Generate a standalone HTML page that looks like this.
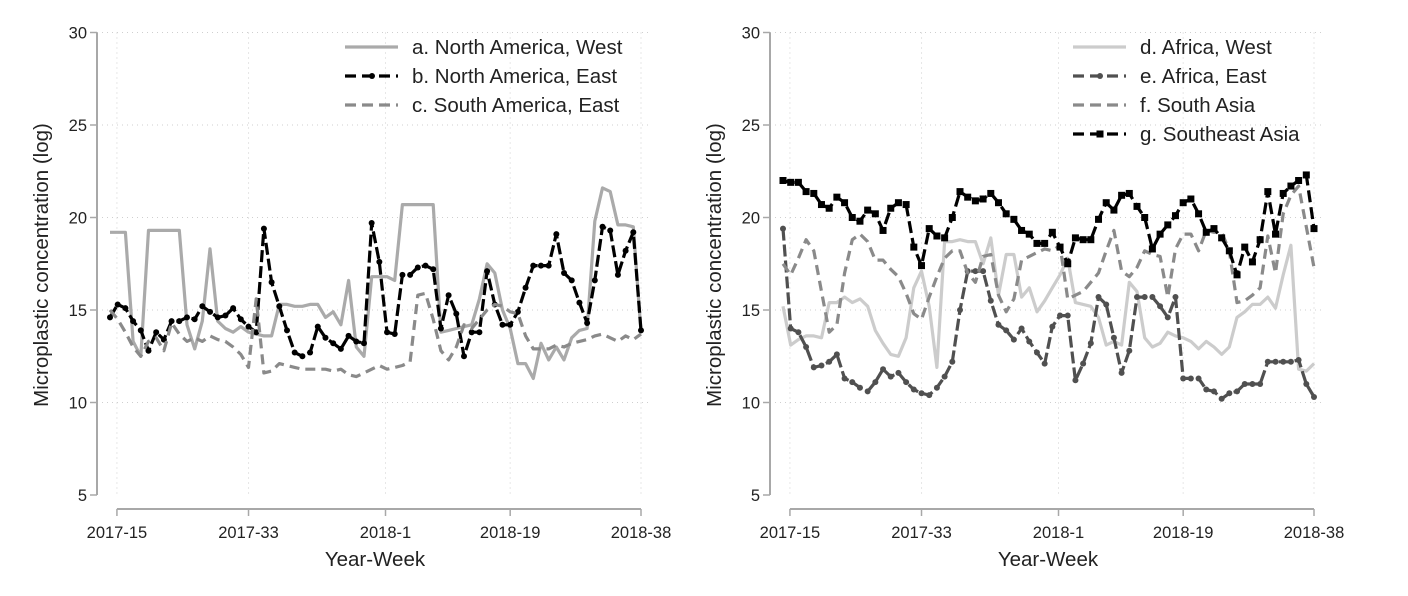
<!DOCTYPE html>
<html><head><meta charset="utf-8">
<style>
html,body{margin:0;padding:0;background:#fff;}
svg{display:block;font-family:"Liberation Sans",Arial,sans-serif;}
</style></head>
<body>
<svg id="chart" width="1408" height="596" viewBox="0 0 1408 596" xmlns="http://www.w3.org/2000/svg"></svg>
<script>
// ---- data ----
const weekCount = 70;
const tickIndex = [0.9, 18, 35.8, 52, 69];
const tickLabels = ["2017-15", "2017-33", "2018-1", "2018-19", "2018-38"];
const yTicks = [5, 10, 15, 20, 25, 30];

const seriesA = [19.2,19.2,19.2,13.3,12.5,19.3,19.3,19.3,19.3,19.3,14.2,12.9,14.4,18.3,14.4,14,13.8,14.1,13.8,13.7,13.6,13.6,15.3,15.3,15.2,15.2,15.3,15.3,14.6,14.9,14.2,16.6,13,12.5,16.8,16.8,16.8,16.6,20.7,20.7,20.7,20.7,20.7,13.8,13.9,14,14.1,14.2,15.6,17.5,17,15,14,12.1,12.1,11.3,13.2,12.3,13,12.3,13.5,13.9,14,19.8,21.6,21.4,19.6,19.6,19.5,13.8];
const seriesB = [14.6,15.3,15.1,14.4,13.9,12.8,13.8,13.4,14.4,14.4,14.6,14.5,15.2,14.9,14.6,14.7,15.1,14.5,14.1,13.8,19.4,16.5,15.2,13.9,12.7,12.5,12.7,14.1,13.5,13.2,12.9,13.6,13.3,13.2,19.7,17.6,13.8,13.7,16.9,16.9,17.3,17.4,17.2,14.0,15.8,14.8,12.5,13.8,13.8,17.1,15.3,14.2,14.2,14.9,16.2,17.4,17.4,17.4,19.1,17.0,16.6,15.4,14.3,16.6,19.5,19.3,16.9,18.2,19.2,13.9];
const seriesC = [15.0,14.5,13.8,13.0,12.5,13.3,13.5,12.8,14.3,13.7,13.3,13.5,13.3,13.6,13.4,13.3,13.0,12.6,11.9,15.6,11.6,11.7,12.1,12.0,11.9,11.8,11.8,11.8,11.8,11.7,11.8,11.5,11.4,11.6,11.8,12.0,11.8,11.9,12.0,12.2,15.8,15.9,14.5,12.8,12.3,13.0,14.2,14.0,14.5,15.0,15.3,15.2,14.9,14.8,13.6,12.9,12.9,12.9,13.1,13.0,13.2,13.3,13.4,13.6,13.7,13.5,13.3,13.6,13.4,13.7];
const seriesD = [15.2,13.1,13.4,13.6,13.6,13.5,15.4,15.4,15.7,15.4,15.6,15.2,13.9,13.2,12.6,12.5,13.5,16.2,17.1,15.2,11.9,18.7,18.7,18.8,18.7,18.7,17.5,18.9,15.8,18.0,18.0,15.7,16.2,14.9,15.5,16.2,16.9,17.8,15.4,15.3,15.2,14.6,13.1,13.3,13.1,16.5,16.0,13.5,13.0,13.2,13.8,13.6,13.5,13.3,12.9,13.3,13.0,12.6,13.0,14.6,14.9,15.3,15.3,15.7,15.1,16.9,18.5,11.8,11.7,12.1];
const seriesE = [19.4,14.0,13.8,13.0,11.9,12.0,12.2,12.6,11.3,11.1,10.8,10.6,11.1,11.8,11.4,11.6,11.1,10.7,10.5,10.4,10.8,11.4,12.2,15.0,17.1,17.1,17.1,15.5,14.2,13.9,13.4,14.0,13.3,12.7,12.1,14.1,14.7,14.7,11.2,12.1,13.2,15.7,15.3,13.5,11.6,12.8,15.7,15.7,15.7,15.2,14.6,15.7,11.3,11.3,11.3,10.7,10.6,10.2,10.5,10.6,11.0,11.0,11.0,12.2,12.2,12.2,12.2,12.3,11.0,10.3];
const seriesF = [17.5,16.9,17.8,18.8,18.2,16.0,13.8,14.2,17.0,18.8,19.1,18.7,17.7,17.7,17.2,16.8,15.9,14.8,14.5,15.7,16.8,17.8,18.2,18.2,17.0,16.5,17.9,18.0,15.8,14.9,15.6,17.7,17.9,18.1,18.3,18.2,18.5,15.6,15.8,16.0,16.5,17.0,18.2,19.3,17.1,16.8,17.3,18.2,18.0,17.9,15.7,18.3,19.1,19.1,18.2,19.3,19.2,19.2,18.2,15.4,15.5,15.8,16.2,19.0,17.0,20.2,21.2,21.7,19.5,17.3];
const seriesG = [22.0,21.9,21.9,21.4,21.3,20.7,20.5,21.1,20.8,20.0,19.8,20.4,20.2,19.3,20.5,20.8,20.7,18.4,17.4,19.4,19.0,18.9,20.0,21.4,21.1,20.9,21.0,21.3,20.8,20.2,19.9,19.3,19.1,18.6,18.6,19.2,18.4,17.5,18.9,18.8,18.8,19.9,20.8,20.4,21.2,21.3,20.6,20.0,18.3,19.1,19.6,20.1,20.8,21.0,20.2,19.2,19.4,18.9,18.2,16.9,18.4,17.6,18.8,21.4,19.1,21.3,21.7,22.0,22.3,19.4];

const leftNames = ["a. North America, West","b. North America, East","c. South America, East"];
const rightNames = ["d. Africa, West","e. Africa, East","f. South Asia","g. Southeast Asia"];

// ---- drawing ----
const NS = "http://www.w3.org/2000/svg";
const svg = document.getElementById("chart");
function mk(tag, attrs, parent){
  const e = document.createElementNS(NS, tag);
  for (const k in attrs) e.setAttribute(k, attrs[k]);
  (parent||svg).appendChild(e);
  return e;
}
function yScale(v){ return 310 - (v - 15) * 18.5; }

const styles = {
  a:{stroke:"#aaaaaa", dash:"", marker:null},
  b:{stroke:"#000000", dash:"12 4", marker:"dot"},
  c:{stroke:"#8a8a8a", dash:"10 6", marker:null},
  d:{stroke:"#cccccc", dash:"", marker:null},
  e:{stroke:"#505050", dash:"12 4", marker:"dot"},
  f:{stroke:"#8a8a8a", dash:"10 6", marker:null},
  g:{stroke:"#000000", dash:"12 5", marker:"square"}
};

function panel(px, key, series, names, legX){
  const x0 = px + 13, x1 = px + 544;
  const xScale = i => x0 + (x1 - x0) * i / (weekCount - 1);
  const g = mk("g", {});
  
  
  yTicks.forEach(t => {
    if (t === 5) return;
    const gl = mk("line", {x1:px, x2:x1+8, y1:yScale(t), y2:yScale(t), stroke:"#cfcfcf", "stroke-width":1, "stroke-dasharray":"1 4"}, g);
    
    
  });
  tickIndex.forEach(ti => {
    const gl = mk("line", {x1:xScale(ti), x2:xScale(ti), y1:yScale(30), y2:yScale(5), stroke:"#cfcfcf", "stroke-width":1, "stroke-dasharray":"1 4"}, g);
    
    
  });
  const ya = mk("line", {x1:px, x2:px, y1:yScale(30), y2:yScale(5), stroke:"#a8a8a8", "stroke-width":2}, g);
  
  
  yTicks.forEach(t => {
    const tl = mk("line", {x1:px-7, x2:px, y1:yScale(t), y2:yScale(t), stroke:"#a8a8a8", "stroke-width":1.5}, g);
    
    
    const tx = mk("text", {x:px-10, y:yScale(t)+6, "text-anchor":"end", "font-size":16.5, fill:"#222"}, g);
    tx.textContent = t;
    
    
  });
  const xa = mk("line", {x1:xScale(tickIndex[0]), x2:xScale(tickIndex[tickIndex.length-1]), y1:509, y2:509, stroke:"#a8a8a8", "stroke-width":2}, g);
  
  
  tickIndex.forEach((ti, k) => {
    const tl = mk("line", {x1:xScale(ti), x2:xScale(ti), y1:509, y2:516, stroke:"#a8a8a8", "stroke-width":1.5}, g);
    
    
    const tx = mk("text", {x:xScale(ti), y:538, "text-anchor":"middle", "font-size":16.5, fill:"#222"}, g);
    tx.textContent = tickLabels[k];
    
    
  });
  const xt = mk("text", {x:(xScale(tickIndex[0])+xScale(tickIndex[4]))/2 - 4, y:566, "text-anchor":"middle", "font-size":20.5, fill:"#222"}, g);
  xt.textContent = "Year-Week";
  
  
  const yt = mk("text", {x:0, y:0, "text-anchor":"middle", "font-size":20.5, fill:"#222", transform:`translate(${px-49},265) rotate(-90)`}, g);
  yt.textContent = "Microplastic concentration (log)";
  
  
  series.forEach((s) => {
    const st = styles[s.key];
    const pts = s.values.map((v, i) => xScale(i).toFixed(1) + "," + yScale(v).toFixed(1)).join(" ");
    const pl = mk("polyline", {points:pts, fill:"none", stroke:st.stroke, "stroke-width":3.2, "stroke-linejoin":"round", "stroke-dasharray":st.dash}, g);
    
    
    if (st.marker) {
      s.values.forEach((v, i) => {
        let m;
        if (st.marker === "dot") m = mk("circle", {cx:xScale(i), cy:yScale(v), r:3, fill:st.stroke}, g);
        else m = mk("rect", {x:xScale(i)-3.5, y:yScale(v)-3.5, width:7, height:7, fill:st.stroke}, g);
        
        
      });
    }
  });
  names.forEach((n, k) => {
    const st = styles[series[k].key];
    const ly = 47 + k * 29;
    const lg = mk("g", {}, g);
    
    
    mk("line", {x1:legX, x2:legX+53, y1:ly, y2:ly, stroke:st.stroke, "stroke-width":3.2, "stroke-dasharray":st.dash ? "11 6" : ""}, lg);
    if (st.marker === "dot") mk("circle", {cx:legX+27, cy:ly, r:3, fill:st.stroke}, lg);
    if (st.marker === "square") mk("rect", {x:legX+23.5, y:ly-3.5, width:7, height:7, fill:st.stroke}, lg);
    const tx = mk("text", {x:legX+67, y:ly+7, "font-size":20.5, fill:"#222"}, lg);
    tx.textContent = n;
  });
}

panel(97, "left", [{key:"a", values:seriesA},{key:"b", values:seriesB},{key:"c", values:seriesC}], leftNames, 345);
panel(770, "right", [{key:"d", values:seriesD},{key:"e", values:seriesE},{key:"f", values:seriesF},{key:"g", values:seriesG}], rightNames, 1073);
</script>
</body></html>
